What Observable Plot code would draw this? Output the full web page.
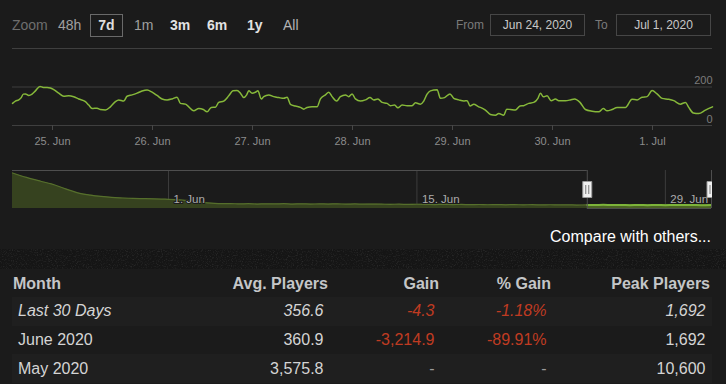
<!DOCTYPE html>
<html><head><meta charset="utf-8">
<script src="https://cdn.jsdelivr.net/npm/d3@7"></script>
<script src="https://cdn.jsdelivr.net/npm/@observablehq/plot@0.6"></script>
<style>
html,body{margin:0;padding:0;background:#1b1b1b;}
#page{position:relative;width:726px;height:384px;overflow:hidden;background:#1b1b1b;font-family:"Liberation Sans",Arial,sans-serif;}
.abs{position:absolute;white-space:nowrap;}
.btn{position:absolute;top:14px;height:22px;line-height:22px;font-size:14px;}
.box{position:absolute;top:14px;height:20px;line-height:20px;border:1px solid #464646;font-size:12px;color:#c8c8c8;text-align:center;}
table{position:absolute;left:12px;top:270px;border-collapse:collapse;table-layout:fixed;width:700px;font-size:16px;}
th{font-weight:bold;color:#c4c6c8;height:27px;padding:0;text-align:right;padding-right:2px;}
td{height:28.7px;padding:0;text-align:right;padding-right:6.5px;color:#d4d4d4;}
th.l{text-align:left;padding-left:1px;}
td.l{text-align:left;padding-left:6px;}
tr.alt td{background:#1f1f1f;}
td.neg{color:#c03b22;}
td.dash{color:#9a9a9a;}
tr.it td{font-style:italic;}
</style></head>
<body><div id="page">
<div class="btn" style="left:12px;color:#6e6e6e">Zoom</div>
<div class="btn" style="left:58px;color:#a0a0a0">48h</div>
<div class="btn" style="left:90px;top:14px;width:31px;height:21px;line-height:21px;border:1px solid #6a6a6a;text-align:center;color:#dedede;font-weight:bold">7d</div>
<div class="btn" style="left:134px;color:#a0a0a0">1m</div>
<div class="btn" style="left:170px;color:#e2e2e2;font-weight:bold">3m</div>
<div class="btn" style="left:207px;color:#e2e2e2;font-weight:bold">6m</div>
<div class="btn" style="left:247px;color:#e2e2e2;font-weight:bold">1y</div>
<div class="btn" style="left:283px;color:#b4b4b4">All</div>
<div class="btn" style="left:456px;font-size:12px;color:#7a7a7a">From</div>
<div class="box" style="left:490px;width:93px">Jun 24, 2020</div>
<div class="btn" style="left:595px;font-size:12px;color:#7a7a7a">To</div>
<div class="box" style="left:616px;width:93px">Jul 1, 2020</div>
<div id="main" class="abs" style="left:0;top:0"></div>
<div id="nav" class="abs" style="left:0;top:165px;width:712px;height:45px;overflow:hidden"></div>
<div class="abs" style="right:15px;top:227px;font-size:16px;line-height:20px;color:#ffffff">Compare with others...</div>
<svg class="abs" style="left:0;top:249px" width="726" height="20">
<filter id="noise"><feTurbulence type="fractalNoise" baseFrequency="0.8" numOctaves="2" stitchTiles="stitch"/>
<feColorMatrix type="matrix" values="0 0 0 0 0.13  0 0 0 0 0.13  0 0 0 0 0.13  1.4 0 0 0 -0.7"/></filter>
<rect width="726" height="20" fill="#151515"/><rect width="726" height="20" filter="url(#noise)" opacity="0.55"/></svg>
<div id="tbl"></div>
</div>
<script>
// ---- main chart data: hours since 2020-06-25 00:00 and player counts ----
const mainHours = [-9.6,-8.9,-8.1,-7.5,-7.0,-6.5,-5.7,-4.9,-4.1,-3.0,-2.2,-1.3,-0.5,0.3,1.5,2.7,3.9,5.1,6.3,7.9,8.7,9.5,10.7,11.5,12.7,13.9,15.1,15.9,17.1,17.9,19.1,20.3,21.5,22.7,23.9,25.1,26.3,27.5,28.7,29.9,30.7,31.9,32.7,33.9,35.1,36.2,37.1,38.1,39.1,39.9,41.1,42.3,43.3,44.3,45.1,
45.9,46.6,47.1,47.9,48.7,49.3,50.1,50.7,51.9,53.1,54.3,55.5,56.3,57.1,58.3,59.5,60.3,61.1,62.3,63.5,64.3,65.5,66.3,67.1,68.2,69.1,70.3,71.1,71.9,72.7,73.9,75.1,76.2,77.1,78.1,79.1,80.3,81.1,82.1,82.9,83.9,85.1,86.3,87.1,88.3,89.1,89.9,90.7,92.3,93.1,94.1,95.4,96.3,97.5,98.7,99.5,100.2,101.1,102.3,
102.7,103.9,105.1,106.3,107.1,108.3,109.0,109.9,111.1,112.2,113.1,114.3,115.5,116.5,117.1,117.8,118.7,119.7,120.7,121.5,123.1,124.3,125.3,126.6,127.9,129.5,131.1,132.2,133.1,134.3,135.5,137.5,139.1,140.3,141.5,142.7,143.9,145.1,146.3,147.9,149.1,150.7,151.9,152.7,153.8,155.1,156.7,158.4];
const mainPlayers = [115,127,133,145,163,164,156,163,180,203,198,198,195,186,168,152,154,149,138,124,106,88,90,83,81,97,124,133,127,152,159,168,179,184,173,156,138,133,138,147,115,111,97,76,88,83,71,94,95,120,127,154,180,182,168,
145,159,180,168,173,180,138,150,159,150,145,141,147,110,101,94,85,94,97,97,138,159,173,150,127,150,159,150,164,138,127,133,145,133,138,120,115,103,106,92,106,103,103,118,111,127,163,180,186,141,145,164,141,133,127,129,101,110,97,
94,80,57,53,62,53,85,83,80,101,103,115,120,141,168,149,154,129,138,129,129,133,138,120,83,74,71,88,76,83,94,94,136,133,147,150,182,164,141,136,129,111,120,94,65,62,80,97];
const viewStartHour = -9.6, viewEndHour = 158.4;
const yGrid = [0, 200, 400];
const yLabels = [0, 200];
const xTickDates = ["2020-06-25","2020-06-26","2020-06-27","2020-06-28","2020-06-29","2020-06-30","2020-07-01"];
const xTickLabels = ["25. Jun","26. Jun","27. Jun","28. Jun","29. Jun","30. Jun","1. Jul"];

// ---- navigator data: days since 2020-06-01 and player counts ----
const navDays = [-8.79,-8,-7.2,-6.6,-5.8,-5,-4.4,-3.8,-3.2,-2.6,-2,-1.4,-0.8,-0.2,0.4,1,1.6,2.2,2.6,3,3.5,4,4.5,5,5.5,6,6.5,7,7.5,8,8.5,9,9.5,10,10.5,11,11.5,12,12.5,13,13.5,14,14.5,15,15.5,16,16.5,17,17.5,18,18.5,19,19.5,20,20.5,21,21.5,22,22.5,23,23.6,24,24.5,25,25.5,26,26.5,27,27.5,28,28.5,29,29.5,30,30.6];
const navPlayers = [1590,1390,1220,1100,880,680,600,540,495,470,450,440,430,415,400,360,310,250,225,215,222,205,215,200,210,205,216,200,210,196,205,200,208,195,204,192,200,195,186,195,182,190,185,176,186,176,182,172,180,168,176,166,172,164,170,162,167,158,163,155,160,158,163,152,160,150,158,148,156,150,160,152,162,150,158];
const navGridDates = ["2020-06-01","2020-06-15","2020-06-29"];
const navGridLabels = ["1. Jun","15. Jun","29. Jun"];
const navMax = 1700;

// ---- table ----
const tableHeaders = ["Month","Avg. Players","Gain","% Gain","Peak Players"];
const tableMonths = ["Last 30 Days","June 2020","May 2020"];
const tableAvg = ["356.6","360.9","3,575.8"];
const tableGain = ["-4.3","-3,214.9","-"];
const tablePctGain = ["-1.18%","-89.91%","-"];
const tablePeak = ["1,692","1,692","10,600"];

const H = 3600e3, D = 24*H;
const base = Date.UTC(2020,5,25);
const junBase = Date.UTC(2020,5,1);
const mainData = mainHours.map((h,i)=>({date:new Date(base+h*H), players:mainPlayers[i]}));
const viewStart = new Date(base+viewStartHour*H), viewEnd = new Date(base+viewEndHour*H);
const tickDates = xTickDates.map(s=>new Date(s+"T00:00:00Z"));
const tickMap = new Map(tickDates.map((d,i)=>[+d, xTickLabels[i]]));
const font = "Liberation Sans, Arial, sans-serif";

const main = Plot.plot({
  width:726, height:150, marginTop:48, marginBottom:25, marginLeft:12, marginRight:14,
  style:{background:"transparent", fontFamily:font, overflow:"visible", maxWidth:"none"},
  x:{type:"utc", domain:[viewStart, viewEnd]},
  y:{domain:[0,400], axis:null},
  marks:[
    Plot.ruleY(yGrid, {stroke:"#3f3f3f"}),
    Plot.axisX({ticks:tickDates, tickFormat:d=>tickMap.get(+d), tickSize:5, tickPadding:7, stroke:"#474747", fill:"#8c8c8c", fontSize:11, label:null}),
    Plot.text(yLabels, {y:d=>d, text:d=>String(d), frameAnchor:"right", textAnchor:"end", dy:-6.5, fill:"#7c7c7c", fontSize:11}),
    Plot.line(mainData, {x:"date", y:"players", stroke:"#86b83a", strokeWidth:1.5, curve:"monotone-x"})
  ]
});
document.getElementById("main").appendChild(main);

const navData = navDays.map((d,i)=>({date:new Date(junBase+d*D), players:navPlayers[i]}));
const navStart = navData[0].date, navEnd = viewEnd;
const selData = navData.filter(d=>d.date>=new Date(viewStart.getTime()-H));
const gridDates = navGridDates.map(s=>new Date(s+"T00:00:00Z"));
const gridLabelMap = new Map(gridDates.map((d,i)=>[+d, navGridLabels[i]]));
const handleSym = {draw(ctx){ctx.rect(-4.5,-8,9,16);}};
const gripSym = {draw(ctx){ctx.moveTo(-1.5,-4.5);ctx.lineTo(-1.5,4.5);ctx.moveTo(1.5,-4.5);ctx.lineTo(1.5,4.5);}};

const nav = Plot.plot({
  width:726, height:45, marginTop:5, marginBottom:2, marginLeft:12, marginRight:15,
  style:{background:"transparent", fontFamily:font, overflow:"visible", maxWidth:"none"},
  x:{type:"utc", domain:[navStart, navEnd], axis:null},
  y:{domain:[0,navMax], axis:null},
  marks:[
    Plot.ruleX(gridDates, {stroke:"#3d3d3d"}),
    Plot.areaY(navData, {x:"date", y:"players", fill:"#36421f", curve:"monotone-x"}),
    Plot.lineY(navData, {x:"date", y:"players", stroke:"#566f2c", strokeWidth:1.2, curve:"monotone-x"}),
    Plot.areaY(selData, {x:"date", y:"players", fill:"#4b6324", curve:"monotone-x"}),
    Plot.lineY(selData, {x:"date", y:"players", stroke:"#7db43a", strokeWidth:2, curve:"monotone-x"}),
    Plot.text(gridDates, {x:d=>d, text:d=>gridLabelMap.get(+d), frameAnchor:"bottom", textAnchor:"start", dx:5, dy:-6, fill:"#acacac", fontSize:11.5, stroke:"#1b1b1b", strokeWidth:2, paintOrder:"stroke"}),
    Plot.ruleY([navMax], {x1:navStart, x2:viewStart, stroke:"#4e4e4e"}),
    Plot.ruleX([viewStart, viewEnd], {stroke:"#4e4e4e"}),
    Plot.ruleY([0], {x1:viewStart, x2:viewEnd, stroke:"#4e4e4e"}),
    Plot.dot([viewStart, viewEnd], {x:d=>d, frameAnchor:"middle", symbol:handleSym, fill:"#f0f0f0", stroke:"#9a9a9a", strokeWidth:1}),
    Plot.dot([viewStart, viewEnd], {x:d=>d, frameAnchor:"middle", symbol:gripSym, fill:"none", stroke:"#777", strokeWidth:1})
  ]
});
document.getElementById("nav").appendChild(nav);

// table
let html = "<table><colgroup><col style='width:188px'><col style='width:130px'><col style='width:111px'><col style='width:112px'><col style='width:159px'></colgroup><tr>";
tableHeaders.forEach((h,i)=>{ html += `<th class="${i===0?'l':''}">${h}</th>`; });
html += "</tr>";
tableMonths.forEach((m,i)=>{
  const cls = (i%2===0?"alt ":"") + (i===0?"it":"");
  const neg = v => v.startsWith("-") && v.length>1 ? "neg" : (v==="-"?"dash":"");
  html += `<tr class="${cls}"><td class="l">${m}</td><td>${tableAvg[i]}</td><td class="${neg(tableGain[i])}">${tableGain[i]}</td><td class="${neg(tablePctGain[i])}">${tablePctGain[i]}</td><td>${tablePeak[i]}</td></tr>`;
});
html += "</table>";
document.getElementById("tbl").innerHTML = html;
</script>
</body></html>
